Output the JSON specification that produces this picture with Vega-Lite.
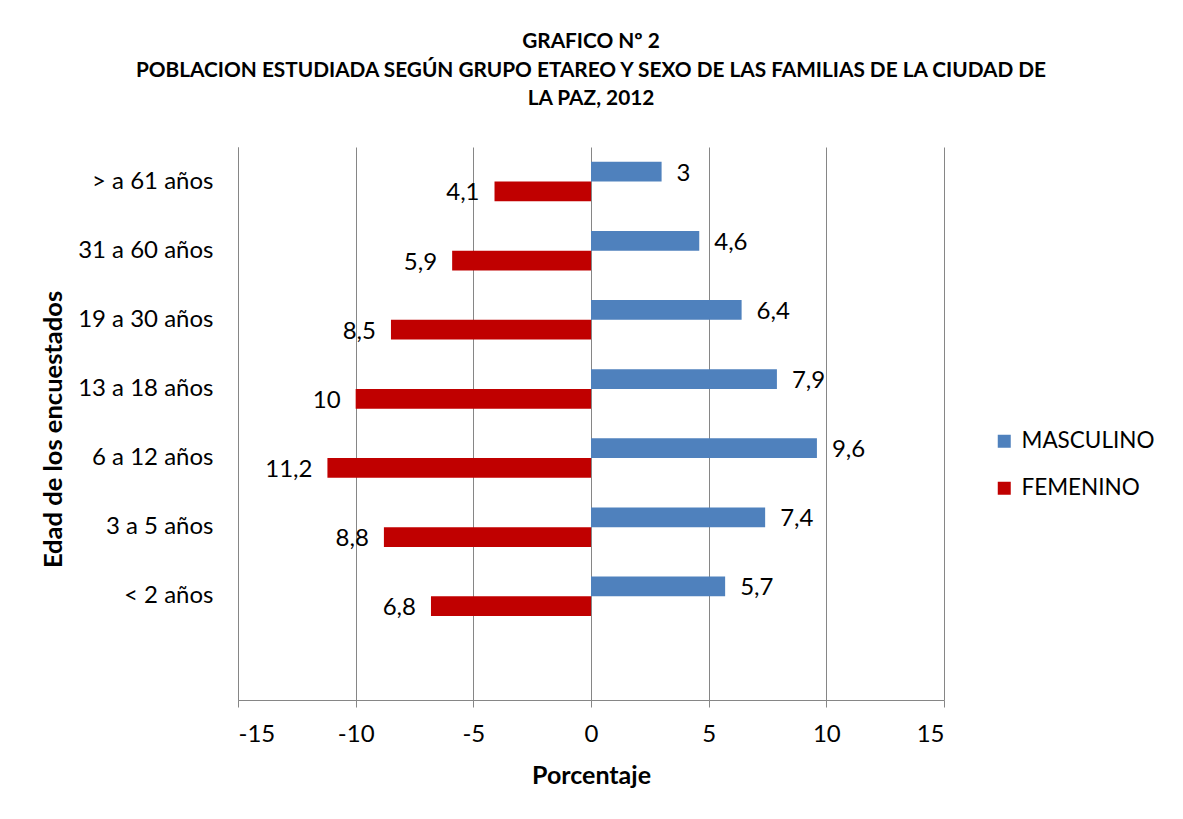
{
  "$schema": "https://vega.github.io/schema/vega-lite/v6.json",
  "width": 706,
  "height": 553,
  "autosize": {"type": "none"},
  "padding": {"left": 238, "top": 147, "right": 239, "bottom": 119},
  "background": "white",
  "title": {
    "text": ["GRAFICO Nº 2", "POBLACION ESTUDIADA SEGÚN GRUPO ETAREO Y SEXO DE LAS FAMILIAS DE LA CIUDAD DE", "LA PAZ, 2012"],
    "font": "Lato",
    "fontSize": 20.8,
    "fontWeight": "bold",
    "color": "#000000",
    "anchor": "middle",
    "lineHeight": 28.5,
    "offset": 37
  },
  "data": {
    "values": [
      {"edad": "> a 61 años", "sexo": "MASCULINO", "valor": 3},
      {"edad": "> a 61 años", "sexo": "FEMENINO", "valor": -4.1},
      {"edad": "31 a 60 años", "sexo": "MASCULINO", "valor": 4.6},
      {"edad": "31 a 60 años", "sexo": "FEMENINO", "valor": -5.9},
      {"edad": "19 a 30 años", "sexo": "MASCULINO", "valor": 6.4},
      {"edad": "19 a 30 años", "sexo": "FEMENINO", "valor": -8.5},
      {"edad": "13 a 18 años", "sexo": "MASCULINO", "valor": 7.9},
      {"edad": "13 a 18 años", "sexo": "FEMENINO", "valor": -10},
      {"edad": "6 a 12 años", "sexo": "MASCULINO", "valor": 9.6},
      {"edad": "6 a 12 años", "sexo": "FEMENINO", "valor": -11.2},
      {"edad": "3 a 5 años", "sexo": "MASCULINO", "valor": 7.4},
      {"edad": "3 a 5 años", "sexo": "FEMENINO", "valor": -8.8},
      {"edad": "< 2 años", "sexo": "MASCULINO", "valor": 5.7},
      {"edad": "< 2 años", "sexo": "FEMENINO", "valor": -6.8}
    ]
  },
  "transform": [
    {"calculate": "replace(format(abs(datum.valor), '~g'), '.', ',')", "as": "etiqueta"}
  ],
  "encoding": {
    "y": {
      "field": "edad",
      "type": "nominal",
      "scale": {
        "domain": ["> a 61 años", "31 a 60 años", "19 a 30 años", "13 a 18 años", "6 a 12 años", "3 a 5 años", "< 2 años", " "],
        "paddingInner": 0.43,
        "paddingOuter": 0.215
      },
      "axis": {
        "title": "Edad de los encuestados",
        "titleFont": "Lato",
        "titleFontSize": 25.5,
        "titleFontWeight": "bold",
        "titleColor": "#000000",
        "titleAngle": -90,
        "titleX": -185,
        "titleY": 282,
        "titleAlign": "center",
        "titleBaseline": "middle",
        "labelFont": "Lato",
        "labelFontSize": 24,
        "labelColor": "#000000",
        "labelPadding": 25,
        "ticks": false,
        "domain": true,
        "domainColor": "#868686",
        "domainWidth": 1,
        "grid": false
      }
    },
    "yOffset": {
      "field": "sexo",
      "type": "nominal",
      "sort": ["MASCULINO", "FEMENINO"],
      "scale": {"paddingInner": 0, "paddingOuter": 0}
    },
    "x": {
      "field": "valor",
      "type": "quantitative",
      "scale": {"domain": [-15, 15], "nice": false, "zero": false},
      "axis": {
        "values": [-15, -10, -5, 0, 5, 10, 15],
        "title": "Porcentaje",
        "titleFont": "Lato",
        "titleFontSize": 25,
        "titleFontWeight": "bold",
        "titleColor": "#000000",
        "titleX": 353,
        "titleY": 75,
        "titleBaseline": "middle",
        "labelFont": "Lato",
        "labelFontSize": 24,
        "labelColor": "#000000",
        "labelExpr": "replace(datum.label, '\u2212', '-')",
        "labelPadding": 15,
        "tickSize": 7,
        "tickColor": "#868686",
        "domainColor": "#868686",
        "grid": true,
        "gridColor": "#868686",
        "gridWidth": 1,
        "gridOpacity": 1
      }
    }
  },
  "layer": [
    {
      "mark": {"type": "bar"},
      "encoding": {
        "color": {
          "field": "sexo",
          "type": "nominal",
          "scale": {"domain": ["MASCULINO", "FEMENINO"], "range": ["#4F81BD", "#C00000"]},
          "legend": {
            "title": null,
            "orient": "none",
            "legendX": 755,
            "legendY": 283,
            "symbolType": "square",
            "symbolSize": 169,
            "symbolStrokeWidth": 0,
            "labelFont": "Lato",
            "labelFontSize": 22.5,
            "labelColor": "#000000",
            "labelOffset": 6,
            "rowPadding": 24
          }
        },
        "x2": {"datum": 0}
      }
    },
    {
      "transform": [{"filter": "datum.valor > 0"}],
      "mark": {"type": "text", "align": "left", "baseline": "middle", "dx": 15, "dy": 2, "font": "Lato", "fontSize": 24, "color": "#000000"},
      "encoding": {"text": {"field": "etiqueta"}}
    },
    {
      "transform": [{"filter": "datum.valor < 0"}],
      "mark": {"type": "text", "align": "right", "baseline": "middle", "dx": -15, "dy": 2, "font": "Lato", "fontSize": 24, "color": "#000000"},
      "encoding": {"text": {"field": "etiqueta"}}
    }
  ],
  "config": {
    "view": {"stroke": null}
  }
}
